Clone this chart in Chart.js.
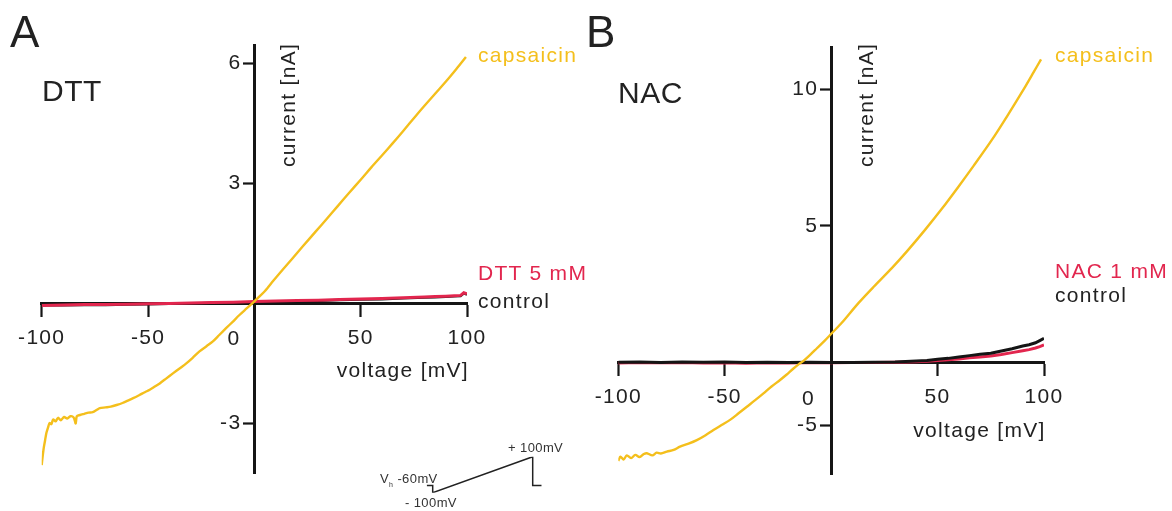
<!DOCTYPE html>
<html><head><meta charset="utf-8">
<script src="https://cdn.jsdelivr.net/npm/chart.js@4.4.1/dist/chart.umd.min.js"></script>
<style>
html,body{margin:0;padding:0;background:#fff;}
#wrap{position:relative;width:1172px;height:511px;overflow:hidden;font-family:"Liberation Sans",Arial,sans-serif;color:#222;}
canvas{position:absolute;}
.t{position:absolute;white-space:nowrap;line-height:1;letter-spacing:1.3px;font-size:21px;}
.rot{transform-origin:0 0;transform:rotate(-90deg);}
.s{font-size:13px;letter-spacing:0.4px;color:#333;}
</style></head>
<body><div id="wrap">
<canvas id="cA" width="580" height="511" style="left:0;top:0;width:580px;height:511px"></canvas>
<canvas id="cB" width="592" height="511" style="left:580px;top:0;width:592px;height:511px"></canvas>
<canvas id="cP" width="130" height="50" style="left:420px;top:450px;width:130px;height:50px"></canvas>

<div class="t" style="left:10px;top:9.8px;font-size:44px;letter-spacing:0">A</div>
<div class="t" style="left:42px;top:76.3px;font-size:30px;letter-spacing:0.5px">DTT</div>
<div class="t" id="capA" style="left:478px;top:44.2px">capsaicin</div>
<div class="t" id="redA" style="left:478px;top:262.2px">DTT 5 mM</div>
<div class="t" style="left:478px;top:290.2px">control</div>
<div class="t" style="left:336.7px;top:358.9px">voltage [mV]</div>
<div class="t" style="left:227.5px;top:327.2px">0</div>
<div class="t rot" style="left:277.2px;top:166.7px">current [nA]</div>

<div class="t" style="left:586px;top:9.8px;font-size:44px;letter-spacing:0">B</div>
<div class="t" style="left:618px;top:77.6px;font-size:30px;letter-spacing:0.5px">NAC</div>
<div class="t" id="capB" style="left:1055px;top:44.2px">capsaicin</div>
<div class="t" id="redB" style="left:1055px;top:260.2px">NAC 1 mM</div>
<div class="t" style="left:1055px;top:284.2px">control</div>
<div class="t" style="left:913.3px;top:418.9px">voltage [mV]</div>
<div class="t" style="left:802px;top:387.2px">0</div>
<div class="t rot" style="left:855.2px;top:166.7px">current [nA]</div>

<div class="t s" style="left:508px;top:440.7px">+ 100mV</div>
<div class="t s" style="left:380px;top:472.3px">V<sub style="font-size:7px">h</sub> -60mV</div>
<div class="t s" style="left:405px;top:496.3px">- 100mV</div>
</div>
<script>
// ---------- colours ----------
const YELLOW = '#F4BF1C';
const RED = '#E2264E';
const BLACK = '#151515';

// ---------- axis ticks ----------
const xTickValues = [-100, -50, 50, 100];
const yTickValuesA = [6, 3, -3];
const yTickLabelsA = ['6', '3', '-3'];
const yTickValuesB = [10, 5, -2.3];
const yTickLabelsB = ['10', '5', '-5'];

// ---------- Panel A (DTT) ----------
const capsA_V = [-100,-99.6,-99,-98.4,-97.8,-97,-96.3,-95.5,-94.6,-93.5,-92.3,-91,-89.5,-88,-86.5,-85,-84,-83.5,-82,-80,-78,-76,-74,-72.7,-70,-67.5,-64.8,-62,-59.5,-57,-54,-51.5,-49.2,-46.8,-44.5,-41.5,-38.3,-35,-32,-29,-25.8,-22.5,-19.5,-16.5,-13.3,-10.2,-7,-3.5,0,1.6,5,9,13.3,18,23,28.9,34,39,44.5,50,55,60.2,65,70,75.8,80,85,91.4,95,99.5];
const capsA_I = [-4.04,-3.85,-3.6,-3.42,-3.24,-3.1,-2.99,-3.02,-2.9,-2.95,-2.86,-2.92,-2.84,-2.88,-2.82,-2.85,-3.0,-2.82,-2.79,-2.76,-2.73,-2.72,-2.66,-2.62,-2.6,-2.58,-2.54,-2.49,-2.43,-2.37,-2.29,-2.22,-2.16,-2.08,-2.0,-1.88,-1.75,-1.62,-1.5,-1.36,-1.2,-1.07,-0.95,-0.79,-0.62,-0.46,-0.29,-0.12,0.05,0.13,0.31,0.57,0.84,1.13,1.44,1.80,2.11,2.42,2.76,3.09,3.40,3.71,4.0,4.31,4.68,4.94,5.24,5.63,5.86,6.16];
const lowA_V = [-100,-90,-80,-70,-60,-50,-40,-30,-20,-10,0,10,20,30,40,50,60,70,80,85,90,94,97,98.5,100];
const dttA_I = [-0.05,-0.04,-0.03,-0.03,-0.02,-0.01,0.0,0.01,0.02,0.03,0.05,0.06,0.07,0.08,0.1,0.11,0.12,0.14,0.16,0.17,0.18,0.19,0.2,0.27,0.24];
const ctlA_I = [-0.05,-0.05,-0.04,-0.04,-0.03,-0.02,-0.01,0.0,0.01,0.02,0.03,0.045,0.055,0.065,0.085,0.095,0.105,0.125,0.145,0.155,0.165,0.175,0.185,0.25,0.22];

// ---------- Panel B (NAC) ----------
const capsB_V = [-100,-99,-97.5,-96,-94,-92,-90,-88,-86.6,-84,-82,-80,-77.2,-74,-71,-67,-63.1,-59,-55.3,-51.5,-47.5,-43.5,-39.6,-35.7,-31.8,-28,-24,-21,-17.7,-15,-13,-10,-6.7,-3,0.3,5,12.8,20,28.5,36,44.1,52,59.8,67,75.5,83,91.2,95,98.6];
const capsB_I = [-3.6,-3.45,-3.55,-3.4,-3.5,-3.38,-3.46,-3.35,-3.32,-3.4,-3.3,-3.33,-3.26,-3.2,-3.08,-2.97,-2.84,-2.66,-2.47,-2.29,-2.1,-1.86,-1.62,-1.38,-1.13,-0.88,-0.64,-0.45,-0.22,-0.05,0.06,0.27,0.52,0.8,1.07,1.45,2.17,2.77,3.45,4.1,4.85,5.62,6.43,7.2,8.14,9.05,10.09,10.6,11.09];
const lowB_V = [-100,-90,-80,-70,-60,-50,-40,-30,-20,-10,0,10,20,30,40,45,50,55,60,65,70,75,80,85,90,93,96,98,100];
const ctlB_I = [0.01,0.02,0.0,0.02,0.01,0.02,0.0,0.01,0.0,0.01,0.0,0.0,0.01,0.02,0.05,0.07,0.12,0.15,0.2,0.25,0.3,0.34,0.42,0.5,0.6,0.65,0.72,0.8,0.88];
const nacB_I = [-0.02,0.0,-0.01,0.0,-0.02,-0.01,-0.03,-0.01,-0.02,0.0,-0.01,0.0,0.0,0.01,0.03,0.04,0.07,0.1,0.13,0.17,0.2,0.24,0.29,0.36,0.43,0.47,0.53,0.58,0.64];

// ---------- voltage protocol inset ----------
const protocolT = [0, 6, 6, 106, 106, 115];
const protocolV = [-60, -60, -100, 100, -60, -60];

document.getElementById('capA').style.color = YELLOW;
document.getElementById('capB').style.color = YELLOW;
document.getElementById('redA').style.color = RED;
document.getElementById('redB').style.color = RED;

const pts = (xs, ys) => xs.map((v, i) => ({x: v, y: ys[i]}));
const FONT = {family: '"Liberation Sans", Arial, sans-serif', size: 21};
const spacing = {id: 'spacing', beforeDraw(c) { c.ctx.letterSpacing = '1.3px'; }};
const GAP = '\u2007'; // keeps y labels clear of the tick marks

function ds(data, color, w, tension) {
  return {data, borderColor: color, backgroundColor: color, borderWidth: w, pointRadius: 0, showLine: true, tension: tension || 0, fill: false};
}

function makePanel(id, datasets, yMin, yMax, yVals, yLabels, pad) {
  return new Chart(document.getElementById(id), {
    type: 'scatter',
    data: {datasets},
    plugins: [spacing],
    options: {
      responsive: false, animation: false,
      layout: {padding: pad},
      plugins: {legend: {display: false}, tooltip: {enabled: false}},
      scales: {
        x: {
          type: 'linear', min: -100, max: 100, position: {y: 0},
          afterBuildTicks: s => { s.ticks = xTickValues.map(v => ({value: v})); },
          ticks: {color: '#222', font: FONT, padding: 10, maxRotation: 0, autoSkip: false, callback: v => String(v)},
          grid: {drawOnChartArea: false, drawTicks: true, tickLength: 12, tickWidth: 2.2, color: BLACK},
          border: {display: true, color: BLACK, width: 3}
        },
        y: {
          type: 'linear', min: yMin, max: yMax, position: {x: 0},
          afterBuildTicks: s => { s.ticks = yVals.map(v => ({value: v})); },
          ticks: {color: '#222', font: FONT, padding: 4, autoSkip: false, callback: (v, i) => yLabels[i] + GAP},
          grid: {drawOnChartArea: false, drawTicks: true, tickLength: 10, tickWidth: 2.2, color: BLACK},
          border: {display: true, color: BLACK, width: 3}
        }
      }
    }
  });
}

// Chart.js paints the first dataset on top, so list top-most traces first.
makePanel('cA', [
  ds(pts(capsA_V, capsA_I), YELLOW, 2.4, 0.3),
  ds(pts(lowA_V, dttA_I), RED, 3),
  ds(pts(lowA_V, ctlA_I), BLACK, 2.4)
], -4.24, 6.46, yTickValuesA, yTickLabelsA, {left: 41.7, right: 113, top: 45, bottom: 38});

makePanel('cB', [
  ds(pts(capsB_V, capsB_I), YELLOW, 2.4, 0.3),
  ds(pts(lowB_V, ctlB_I), BLACK, 3),
  ds(pts(lowB_V, nacB_I), RED, 3)
], -4.08, 11.54, yTickValuesB, yTickLabelsB, {left: 38.3, right: 128, top: 47, bottom: 37});

new Chart(document.getElementById('cP'), {
  type: 'scatter',
  data: {datasets: [ds(pts(protocolT, protocolV), '#222', 1.5)]},
  options: {
    responsive: false, animation: false,
    layout: {padding: {left: 6.7, right: 8.3, top: 6.7, bottom: 7.3}},
    plugins: {legend: {display: false}, tooltip: {enabled: false}},
    scales: {
      x: {type: 'linear', min: 0, max: 115, display: false},
      y: {type: 'linear', min: -100, max: 100, display: false}
    }
  }
});
</script>
</body></html>
